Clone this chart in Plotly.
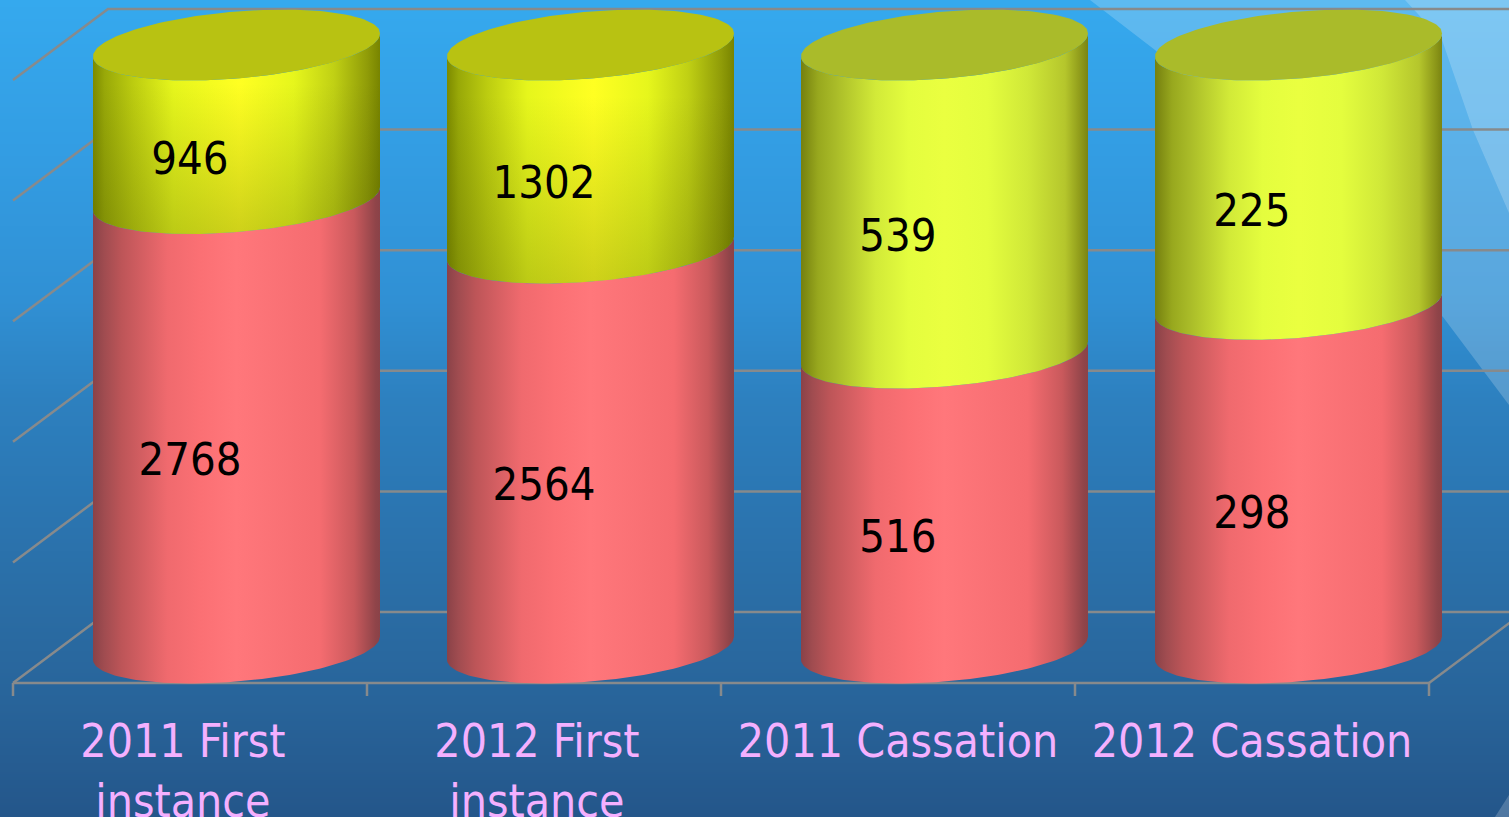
import numpy as np
import plotly.graph_objects as go

categories = ["2011 First<br>instance", "2012 First<br>instance", "2011 Cassation", "2012 Cassation"]
lower_values = [2768, 2564, 516, 298]
upper_values = [946, 1302, 539, 225]

W, H = 1509, 817
FONT = "DejaVu Sans Condensed"
PX_X = 354.0          # pixels per category
PX_Y = 6.03           # pixels per percent
X0_PX, Y0_PX = 190.0, 683.0
CYL_DX, CYL_DY = 46.5 / PX_X, 35 / PX_Y
RX, RK, RB = 143.5 / PX_X, 11.5 / PX_Y, 33.5 / PX_Y
WALL_DX, WALL_DY = 95 / PX_X, 71 / PX_Y
LABEL_DROP = 5.5 / PX_Y

RED = [[0, "#8a4248"], [.04, "#a04c50"], [.1, "#bd5558"], [.26, "#f06a6e"], [.375, "#fb7074"], [.5, "#ff777b"],
       [.79, "#f56c70"], [.91, "#c9595c"], [.985, "#8f4449"], [1, "#8a4248"]]
OLIVE = [[0, "#7c8a00"], [.04, "#98a808"], [.14, "#bccc10"], [.28, "#e6f61c"], [.51, "#ffff22"],
         [.7, "#e6f61c"], [.84, "#c0d014"], [.955, "#909c08"], [1, "#788400"]]
LIME = [[0, "#75800f"], [.06, "#98a81e"], [.12, "#a9bb28"], [.26, "#d2ea38"], [.375, "#e4fd3e"], [.5, "#eaff40"],
        [.65, "#e4fd3e"], [.79, "#d0e838"], [.92, "#b5c62c"], [.98, "#8a9518"], [1, "#7a8412"]]
TOP_COLORS = ["#b8c212", "#b8c212", "#aabb2a", "#aabb2a"]
UPPER_SCALES = [OLIVE, OLIVE, LIME, LIME]
SHADE = [True, True, False, False]

fig = go.Figure()

# background, on a pixel-scaled pair of axes
bg_y = [0, 150, 300, 400, 500, 600, 700, 817]
bg_c = ["#35a9ee", "#339de3", "#3090d4", "#2d80bf", "#2b76b2", "#2a6da5", "#28649a", "#24568a"]
vals = [y / H for y in bg_y]
fig.add_trace(go.Heatmap(x=[0, W], y=bg_y, z=[[v, v] for v in vals], zmin=0, zmax=1, zsmooth="best",
                         colorscale=[[v, c] for v, c in zip(vals, bg_c)], showscale=False, hoverinfo="skip"))
swoosh1_x = [1090, 1155, 1300, 1443, 1509, 1509, 1090]
swoosh1_y = [0, 50, 185, 317, 405, 0, 0]
swoosh2_x = [1405, 1442, 1473, 1509, 1509, 1405]
swoosh2_y = [0, 40, 130, 213, 0, 0]
swoosh3_x = [1495, 1509, 1509, 1495]
swoosh3_y = [817, 795, 817, 817]
for sx, sy, a in [(swoosh1_x, swoosh1_y, .2), (swoosh2_x, swoosh2_y, .2), (swoosh3_x, swoosh3_y, .2)]:
    fig.add_trace(go.Scatter(x=sx, y=sy, mode="lines", line=dict(width=0), fill="toself",
                             fillcolor=f"rgba(255,255,255,{a})", hoverinfo="skip", showlegend=False))

# walls, floor, axis
GRID = "#878a8c"
tick_levels = [0, 20, 40, 60, 80, 100]
gx, gy = [], []
for v in tick_levels:
    gx += [-.5, -.5 + WALL_DX, 3.5 + WALL_DX, None]
    gy += [v, v + WALL_DY, v + WALL_DY, None]
gx += [3.5, 3.5 + WALL_DX, None]
gy += [0, WALL_DY, None]
gx += [-.5, 3.5, None]
gy += [0, 0, None]
for i in range(5):
    gx += [i - .5, i - .5, None]
    gy += [0, -13 / PX_Y, None]
fig.add_trace(go.Scatter(x=gx, y=gy, xaxis="x2", yaxis="y2", mode="lines", line=dict(color=GRID, width=2.5),
                         hoverinfo="skip", showlegend=False))

# cylinders
t_front = np.linspace(np.pi, 0, 80)
def arc(cx, v, t):
    return cx + RX * np.cos(t), v + CYL_DY + RK * np.cos(t) - RB * np.sin(t)

def segment(cx, a, b):
    xt, yt = arc(cx, b, t_front)
    xb, yb = arc(cx, a, t_front[::-1])
    return np.r_[xt, xb, xt[0]], np.r_[yt, yb, yt[0]]

for i, (lo, up) in enumerate(zip(lower_values, upper_values)):
    total = lo + up
    lp = lo / total * 100
    cx = i + CYL_DX
    x, y = segment(cx, 0, lp)
    fig.add_trace(go.Scatter(x=x, y=y, xaxis="x2", yaxis="y2", mode="lines", line=dict(width=0), fill="toself",
                             fillgradient=dict(type="horizontal", colorscale=RED), hoverinfo="skip", showlegend=False))
    x, y = segment(cx, lp, 100)
    fig.add_trace(go.Scatter(x=x, y=y, xaxis="x2", yaxis="y2", mode="lines", line=dict(width=0), fill="toself",
                             fillgradient=dict(type="horizontal", colorscale=UPPER_SCALES[i]),
                             hoverinfo="skip", showlegend=False))
    if SHADE[i]:
        fig.add_trace(go.Scatter(x=x, y=y, xaxis="x2", yaxis="y2", mode="lines", line=dict(width=0), fill="toself",
                                 fillgradient=dict(type="vertical",
                                                   colorscale=[[0, "rgba(60,70,0,0.25)"], [.75, "rgba(60,70,0,0)"], [1, "rgba(60,70,0,0)"]]),
                                 hoverinfo="skip", showlegend=False))
    tt = np.linspace(0, 2 * np.pi, 160)
    ex, ey = arc(cx, 100, tt)
    fig.add_trace(go.Scatter(x=ex, y=ey, xaxis="x2", yaxis="y2", mode="lines", line=dict(width=0), fill="toself",
                             fillcolor=TOP_COLORS[i], hoverinfo="skip", showlegend=False))

# data labels in the front plane
lx, ly, lt = [], [], []
for i, (lo, up) in enumerate(zip(lower_values, upper_values)):
    total = lo + up
    lx += [i, i]
    ly += [lo / total * 50 - LABEL_DROP, (lo + up / 2) / total * 100 - LABEL_DROP]
    lt += [str(lo), str(up)]
fig.add_trace(go.Scatter(x=lx, y=ly, text=lt, xaxis="x2", yaxis="y2", mode="text", textposition="middle center",
                         textfont=dict(family=FONT, size=45, color="#000000"), hoverinfo="skip", showlegend=False))

x_range = [-X0_PX / PX_X, (W - X0_PX) / PX_X]
y_range = [-(H - Y0_PX) / PX_Y, Y0_PX / PX_Y]
fig.update_layout(
    width=W, height=H, margin=dict(l=0, r=0, t=0, b=0), showlegend=False,
    paper_bgcolor="#24568a", plot_bgcolor="rgba(0,0,0,0)",
    xaxis=dict(range=[0, W], visible=False, domain=[0, 1], automargin=False),
    yaxis=dict(range=[H, 0], visible=False, domain=[0, 1], automargin=False),
    xaxis2=dict(range=x_range, overlaying="x", anchor="free", position=(H - Y0_PX) / H, domain=[0, 1],
                automargin=False, showgrid=False, zeroline=False, showline=False,
                tickmode="array", tickvals=[-.02, .98, 2.0, 3.0], ticktext=categories,
                ticks="outside", ticklen=18, tickcolor="rgba(0,0,0,0)",
                tickfont=dict(family=FONT, size=46, color="#f4b0ff")),
    yaxis2=dict(range=y_range, overlaying="y", domain=[0, 1], visible=False, automargin=False),
)
fig.write_html("out.html", config={"displayModeBar": False},
               post_script="document.body.style.margin='0';document.body.style.overflow='hidden';")
